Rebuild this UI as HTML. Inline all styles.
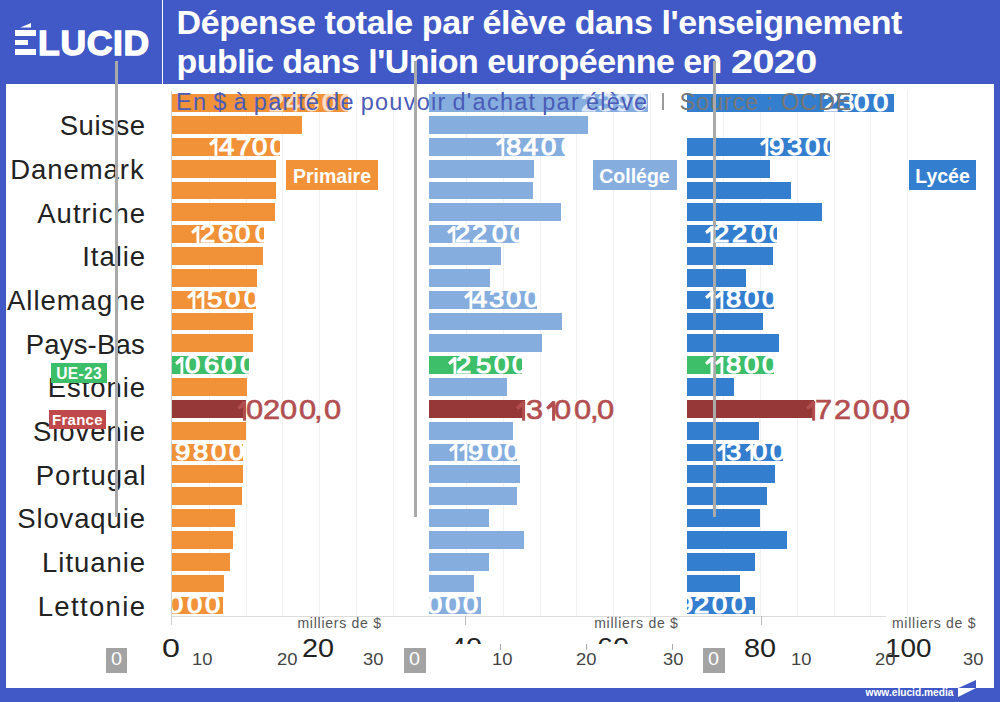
<!DOCTYPE html>
<html><head><meta charset="utf-8">
<style>
html,body{margin:0;padding:0;}
body{width:1000px;height:702px;background:#4059C6;position:relative;overflow:hidden;font-family:"Liberation Sans",sans-serif;}
.a{position:absolute;}
.t{position:absolute;white-space:nowrap;line-height:1;}
.bar{position:absolute;overflow:hidden;}
.g{position:absolute;width:1px;background:#F1F1F1;}
</style></head><body>

<div class="a" style="left:6px;top:84px;width:988px;height:604px;background:#fff"></div>
<div class="a" style="left:161.5px;top:0;width:1.8px;height:84px;background:#fff"></div>
<div class="a" style="left:14.8px;top:30px;width:21.2px;height:6px;background:#fff"></div>
<div class="a" style="left:14.8px;top:39.9px;width:13.2px;height:5.6px;background:#fff"></div>
<div class="a" style="left:14.8px;top:49.4px;width:21.2px;height:5.7px;background:#fff"></div>
<svg class="a" style="left:0;top:0" width="160" height="80"><polygon points="20.3,27.6 31,23 31,27.6" fill="#fff"/></svg>
<div class="t" style="left:38px;top:25.5px;font-size:35.5px;font-weight:bold;color:#fff;letter-spacing:0.7px;-webkit-text-stroke:1.4px #fff">LUCID</div>
<div class="t" style="left:176.5px;top:4.5px;font-size:34px;font-weight:bold;color:#fff;letter-spacing:-0.4px">Dépense totale par élève dans l'enseignement</div>
<div class="t" style="left:176.5px;top:43.5px;font-size:34px;font-weight:bold;color:#fff;letter-spacing:-0.55px">public dans l'Union européenne en <span style="display:inline-block;transform:scaleX(1.165);transform-origin:0 0">2020</span></div>
<div class="g" style="left:208.75px;top:91px;height:525px"></div>
<div class="g" style="left:245.50px;top:91px;height:525px"></div>
<div class="g" style="left:282.25px;top:91px;height:525px"></div>
<div class="g" style="left:319.00px;top:91px;height:525px"></div>
<div class="g" style="left:355.75px;top:91px;height:525px"></div>
<div class="g" style="left:392.50px;top:91px;height:525px"></div>
<div class="g" style="left:466.00px;top:91px;height:525px"></div>
<div class="g" style="left:502.75px;top:91px;height:525px"></div>
<div class="g" style="left:539.50px;top:91px;height:525px"></div>
<div class="g" style="left:576.25px;top:91px;height:525px"></div>
<div class="g" style="left:613.00px;top:91px;height:525px"></div>
<div class="g" style="left:649.75px;top:91px;height:525px"></div>
<div class="g" style="left:723.25px;top:91px;height:525px"></div>
<div class="g" style="left:760.00px;top:91px;height:525px"></div>
<div class="g" style="left:796.75px;top:91px;height:525px"></div>
<div class="g" style="left:833.50px;top:91px;height:525px"></div>
<div class="g" style="left:870.25px;top:91px;height:525px"></div>
<div class="g" style="left:907.00px;top:91px;height:525px"></div>
<div class="a" style="left:171px;top:91px;width:1px;height:534px;background:#D0D0D0"></div>
<div class="a" style="left:172px;top:615.5px;width:714px;height:1px;background:#DCDCDC"></div>
<div class="a" style="left:172.00px;top:94.20px;width:176.00px;height:17.80px;background:#F19238"></div>
<div class="a" style="left:172.00px;top:116.04px;width:129.75px;height:17.80px;background:#F19238"></div>
<div class="a" style="left:172.00px;top:137.88px;width:108.00px;height:17.80px;background:#F19238"></div>
<div class="a" style="left:172.00px;top:159.72px;width:103.50px;height:17.80px;background:#F19238"></div>
<div class="a" style="left:172.00px;top:181.56px;width:103.50px;height:17.80px;background:#F19238"></div>
<div class="a" style="left:172.00px;top:203.40px;width:103.00px;height:17.80px;background:#F19238"></div>
<div class="a" style="left:172.00px;top:225.24px;width:92.00px;height:17.80px;background:#F19238"></div>
<div class="a" style="left:172.00px;top:247.08px;width:90.50px;height:17.80px;background:#F19238"></div>
<div class="a" style="left:172.00px;top:268.92px;width:84.50px;height:17.80px;background:#F19238"></div>
<div class="a" style="left:172.00px;top:290.76px;width:84.00px;height:17.80px;background:#F19238"></div>
<div class="a" style="left:172.00px;top:312.60px;width:81.25px;height:17.80px;background:#F19238"></div>
<div class="a" style="left:172.00px;top:334.44px;width:81.25px;height:17.80px;background:#F19238"></div>
<div class="a" style="left:172.00px;top:356.28px;width:77.25px;height:17.80px;background:#3DBE68"></div>
<div class="a" style="left:172.00px;top:378.12px;width:74.75px;height:17.80px;background:#F19238"></div>
<div class="a" style="left:172.00px;top:399.96px;width:73.60px;height:17.80px;background:#963838"></div>
<div class="a" style="left:172.00px;top:421.80px;width:73.50px;height:17.80px;background:#F19238"></div>
<div class="a" style="left:172.00px;top:443.64px;width:71.00px;height:17.80px;background:#F19238"></div>
<div class="a" style="left:172.00px;top:465.48px;width:70.50px;height:17.80px;background:#F19238"></div>
<div class="a" style="left:172.00px;top:487.32px;width:69.75px;height:17.80px;background:#F19238"></div>
<div class="a" style="left:172.00px;top:509.16px;width:63.00px;height:17.80px;background:#F19238"></div>
<div class="a" style="left:172.00px;top:531.00px;width:61.25px;height:17.80px;background:#F19238"></div>
<div class="a" style="left:172.00px;top:552.84px;width:58.00px;height:17.80px;background:#F19238"></div>
<div class="a" style="left:172.00px;top:574.68px;width:51.75px;height:17.80px;background:#F19238"></div>
<div class="a" style="left:172.00px;top:596.52px;width:51.00px;height:17.80px;background:#F19238"></div>
<div class="a" style="left:429.25px;top:94.20px;width:218.75px;height:17.80px;background:#85AEDF"></div>
<div class="a" style="left:429.25px;top:116.04px;width:158.25px;height:17.80px;background:#85AEDF"></div>
<div class="a" style="left:429.25px;top:137.88px;width:135.75px;height:17.80px;background:#85AEDF"></div>
<div class="a" style="left:429.25px;top:159.72px;width:104.25px;height:17.80px;background:#85AEDF"></div>
<div class="a" style="left:429.25px;top:181.56px;width:103.75px;height:17.80px;background:#85AEDF"></div>
<div class="a" style="left:429.25px;top:203.40px;width:131.25px;height:17.80px;background:#85AEDF"></div>
<div class="a" style="left:429.25px;top:225.24px;width:89.75px;height:17.80px;background:#85AEDF"></div>
<div class="a" style="left:429.25px;top:247.08px;width:71.25px;height:17.80px;background:#85AEDF"></div>
<div class="a" style="left:429.25px;top:268.92px;width:60.75px;height:17.80px;background:#85AEDF"></div>
<div class="a" style="left:429.25px;top:290.76px;width:107.25px;height:17.80px;background:#85AEDF"></div>
<div class="a" style="left:429.25px;top:312.60px;width:132.75px;height:17.80px;background:#85AEDF"></div>
<div class="a" style="left:429.25px;top:334.44px;width:112.75px;height:17.80px;background:#85AEDF"></div>
<div class="a" style="left:429.25px;top:356.28px;width:92.25px;height:17.80px;background:#3DBE68"></div>
<div class="a" style="left:429.25px;top:378.12px;width:77.75px;height:17.80px;background:#85AEDF"></div>
<div class="a" style="left:429.25px;top:399.96px;width:95.55px;height:17.80px;background:#963838"></div>
<div class="a" style="left:429.25px;top:421.80px;width:83.75px;height:17.80px;background:#85AEDF"></div>
<div class="a" style="left:429.25px;top:443.64px;width:87.75px;height:17.80px;background:#85AEDF"></div>
<div class="a" style="left:429.25px;top:465.48px;width:90.75px;height:17.80px;background:#85AEDF"></div>
<div class="a" style="left:429.25px;top:487.32px;width:87.75px;height:17.80px;background:#85AEDF"></div>
<div class="a" style="left:429.25px;top:509.16px;width:59.25px;height:17.80px;background:#85AEDF"></div>
<div class="a" style="left:429.25px;top:531.00px;width:94.75px;height:17.80px;background:#85AEDF"></div>
<div class="a" style="left:429.25px;top:552.84px;width:59.25px;height:17.80px;background:#85AEDF"></div>
<div class="a" style="left:429.25px;top:574.68px;width:44.25px;height:17.80px;background:#85AEDF"></div>
<div class="a" style="left:429.25px;top:596.52px;width:51.75px;height:17.80px;background:#85AEDF"></div>
<div class="a" style="left:686.50px;top:94.20px;width:207.50px;height:17.80px;background:#337ECF"></div>
<div class="a" style="left:686.50px;top:137.88px;width:143.50px;height:17.80px;background:#337ECF"></div>
<div class="a" style="left:686.50px;top:159.72px;width:83.00px;height:17.80px;background:#337ECF"></div>
<div class="a" style="left:686.50px;top:181.56px;width:104.50px;height:17.80px;background:#337ECF"></div>
<div class="a" style="left:686.50px;top:203.40px;width:135.50px;height:17.80px;background:#337ECF"></div>
<div class="a" style="left:686.50px;top:225.24px;width:90.50px;height:17.80px;background:#337ECF"></div>
<div class="a" style="left:686.50px;top:247.08px;width:86.50px;height:17.80px;background:#337ECF"></div>
<div class="a" style="left:686.50px;top:268.92px;width:59.50px;height:17.80px;background:#337ECF"></div>
<div class="a" style="left:686.50px;top:290.76px;width:87.50px;height:17.80px;background:#337ECF"></div>
<div class="a" style="left:686.50px;top:312.60px;width:76.20px;height:17.80px;background:#337ECF"></div>
<div class="a" style="left:686.50px;top:334.44px;width:92.50px;height:17.80px;background:#337ECF"></div>
<div class="a" style="left:686.50px;top:356.28px;width:87.50px;height:17.80px;background:#3DBE68"></div>
<div class="a" style="left:686.50px;top:378.12px;width:47.50px;height:17.80px;background:#337ECF"></div>
<div class="a" style="left:686.50px;top:399.96px;width:127.70px;height:17.80px;background:#963838"></div>
<div class="a" style="left:686.50px;top:421.80px;width:72.10px;height:17.80px;background:#337ECF"></div>
<div class="a" style="left:686.50px;top:443.64px;width:96.50px;height:17.80px;background:#337ECF"></div>
<div class="a" style="left:686.50px;top:465.48px;width:88.10px;height:17.80px;background:#337ECF"></div>
<div class="a" style="left:686.50px;top:487.32px;width:80.50px;height:17.80px;background:#337ECF"></div>
<div class="a" style="left:686.50px;top:509.16px;width:73.20px;height:17.80px;background:#337ECF"></div>
<div class="a" style="left:686.50px;top:531.00px;width:100.00px;height:17.80px;background:#337ECF"></div>
<div class="a" style="left:686.50px;top:552.84px;width:68.10px;height:17.80px;background:#337ECF"></div>
<div class="a" style="left:686.50px;top:574.68px;width:53.50px;height:17.80px;background:#337ECF"></div>
<div class="a" style="left:686.50px;top:596.52px;width:68.10px;height:17.80px;background:#337ECF"></div>
<svg class="a" style="left:236.60px;top:400.56px" width="9.9" height="22.0"><polygon points="6.16,0.33 9.13,0.33 9.13,3.96 1.98,8.69 0.11,6.16" fill="#B24E50"/><rect x="6.05" y="0.33" width="3.08" height="19.36" fill="#B24E50"/></svg>
<div class="t" style="left:246.14px;top:396.36px;font-size:27.4px;color:#B24E50;-webkit-text-stroke:0.6px #B24E50;transform:scaleX(1.125);transform-origin:0 0">0</div>
<div class="t" style="left:262.69px;top:396.36px;font-size:27.4px;color:#B24E50;-webkit-text-stroke:0.6px #B24E50;transform:scaleX(1.125);transform-origin:0 0">2</div>
<div class="t" style="left:280.34px;top:396.36px;font-size:27.4px;color:#B24E50;-webkit-text-stroke:0.6px #B24E50;transform:scaleX(1.125);transform-origin:0 0">0</div>
<div class="t" style="left:298.94px;top:396.36px;font-size:27.4px;color:#B24E50;-webkit-text-stroke:0.6px #B24E50;transform:scaleX(1.125);transform-origin:0 0">0</div>
<div class="t" style="left:314.23px;top:396.36px;font-size:27.4px;color:#B24E50;-webkit-text-stroke:0.6px #B24E50;transform:scaleX(1.125);transform-origin:0 0">,</div>
<div class="t" style="left:324.14px;top:396.36px;font-size:27.4px;color:#B24E50;-webkit-text-stroke:0.6px #B24E50;transform:scaleX(1.125);transform-origin:0 0">0</div>
<svg class="a" style="left:516.40px;top:400.56px" width="9.9" height="22.0"><polygon points="6.16,0.33 9.13,0.33 9.13,3.96 1.98,8.69 0.11,6.16" fill="#B24E50"/><rect x="6.05" y="0.33" width="3.08" height="19.36" fill="#B24E50"/></svg>
<div class="t" style="left:525.94px;top:396.36px;font-size:27.4px;color:#B24E50;-webkit-text-stroke:0.6px #B24E50;transform:scaleX(1.125);transform-origin:0 0">3</div>
<svg class="a" style="left:545.80px;top:400.56px" width="9.9" height="22.0"><polygon points="6.16,0.33 9.13,0.33 9.13,3.96 1.98,8.69 0.11,6.16" fill="#B24E50"/><rect x="6.05" y="0.33" width="3.08" height="19.36" fill="#B24E50"/></svg>
<div class="t" style="left:554.14px;top:396.36px;font-size:27.4px;color:#B24E50;-webkit-text-stroke:0.6px #B24E50;transform:scaleX(1.125);transform-origin:0 0">0</div>
<div class="t" style="left:573.94px;top:396.36px;font-size:27.4px;color:#B24E50;-webkit-text-stroke:0.6px #B24E50;transform:scaleX(1.125);transform-origin:0 0">0</div>
<div class="t" style="left:590.43px;top:396.36px;font-size:27.4px;color:#B24E50;-webkit-text-stroke:0.6px #B24E50;transform:scaleX(1.125);transform-origin:0 0">,</div>
<div class="t" style="left:596.74px;top:396.36px;font-size:27.4px;color:#B24E50;-webkit-text-stroke:0.6px #B24E50;transform:scaleX(1.125);transform-origin:0 0">0</div>
<svg class="a" style="left:805.80px;top:400.56px" width="9.9" height="22.0"><polygon points="6.16,0.33 9.13,0.33 9.13,3.96 1.98,8.69 0.11,6.16" fill="#B24E50"/><rect x="6.05" y="0.33" width="3.08" height="19.36" fill="#B24E50"/></svg>
<div class="t" style="left:814.96px;top:396.36px;font-size:27.4px;color:#B24E50;-webkit-text-stroke:0.6px #B24E50;transform:scaleX(1.125);transform-origin:0 0">7</div>
<div class="t" style="left:833.69px;top:396.36px;font-size:27.4px;color:#B24E50;-webkit-text-stroke:0.6px #B24E50;transform:scaleX(1.125);transform-origin:0 0">2</div>
<div class="t" style="left:852.54px;top:396.36px;font-size:27.4px;color:#B24E50;-webkit-text-stroke:0.6px #B24E50;transform:scaleX(1.125);transform-origin:0 0">0</div>
<div class="t" style="left:871.74px;top:396.36px;font-size:27.4px;color:#B24E50;-webkit-text-stroke:0.6px #B24E50;transform:scaleX(1.125);transform-origin:0 0">0</div>
<div class="t" style="left:888.23px;top:396.36px;font-size:27.4px;color:#B24E50;-webkit-text-stroke:0.6px #B24E50;transform:scaleX(1.125);transform-origin:0 0">,</div>
<div class="t" style="left:893.34px;top:396.36px;font-size:27.4px;color:#B24E50;-webkit-text-stroke:0.6px #B24E50;transform:scaleX(1.125);transform-origin:0 0">0</div>
<div class="t" style="left:59.70px;top:112.20px;font-size:27.5px;color:#222;letter-spacing:0.560px">Suisse</div>
<div class="t" style="left:10.20px;top:155.88px;font-size:27.5px;color:#222;letter-spacing:0.957px">Danemark</div>
<div class="t" style="left:37.30px;top:199.56px;font-size:27.5px;color:#222;letter-spacing:0.971px">Autriche</div>
<div class="t" style="left:82.30px;top:243.24px;font-size:27.5px;color:#222;letter-spacing:0.920px">Italie</div>
<div class="t" style="left:6.90px;top:286.92px;font-size:27.5px;color:#222;letter-spacing:1.025px">Allemagne</div>
<div class="t" style="left:25.70px;top:330.60px;font-size:27.5px;color:#222;letter-spacing:0.200px">Pays-Bas</div>
<div class="t" style="left:47.70px;top:374.28px;font-size:27.5px;color:#222;letter-spacing:0.933px">Estonie</div>
<div class="t" style="left:33.00px;top:417.96px;font-size:27.5px;color:#222;letter-spacing:0.929px">Slovénie</div>
<div class="t" style="left:35.70px;top:461.64px;font-size:27.5px;color:#222;letter-spacing:1.071px">Portugal</div>
<div class="t" style="left:17.20px;top:505.32px;font-size:27.5px;color:#222;letter-spacing:0.875px">Slovaquie</div>
<div class="t" style="left:42.10px;top:549.00px;font-size:27.5px;color:#222;letter-spacing:0.943px">Lituanie</div>
<div class="t" style="left:37.70px;top:592.68px;font-size:27.5px;color:#222;letter-spacing:1.343px">Lettonie</div>
<div class="a" style="left:115px;top:61px;width:3px;height:456px;background:#A9A9A9"></div>
<div class="a" style="left:414px;top:61px;width:3px;height:456px;background:#A9A9A9"></div>
<div class="a" style="left:713px;top:61px;width:3px;height:456px;background:#A9A9A9"></div>
<div class="bar" style="left:172.00px;top:94.20px;width:176.00px;height:17.80px;opacity:0.7"><div class="t" style="left:96.66px;top:-3.30px;font-size:24.5px;color:#fff;-webkit-text-stroke:1px #fff;transform:scaleX(1.12);transform-origin:0 0">2</div><div class="t" style="left:113.33px;top:-3.30px;font-size:24.5px;color:#fff;-webkit-text-stroke:1px #fff;transform:scaleX(1.12);transform-origin:0 0">4</div><div class="t" style="left:131.66px;top:-3.30px;font-size:24.5px;color:#fff;-webkit-text-stroke:1px #fff;transform:scaleX(1.12);transform-origin:0 0">6</div><div class="t" style="left:149.88px;top:-3.30px;font-size:24.5px;color:#fff;-webkit-text-stroke:1px #fff;transform:scaleX(1.12);transform-origin:0 0">0</div><div class="t" style="left:167.88px;top:-3.30px;font-size:24.5px;color:#fff;-webkit-text-stroke:1px #fff;transform:scaleX(1.12);transform-origin:0 0">0</div></div>
<div class="bar" style="left:172.00px;top:137.88px;width:108.00px;height:17.80px"><svg class="a" style="left:36.60px;top:0.30px" width="9.0" height="20.0"><polygon points="5.60,0.30 8.30,0.30 8.30,3.60 1.80,7.90 0.10,5.60" fill="#fff"/><rect x="5.50" y="0.30" width="2.80" height="17.60" fill="#fff"/></svg><div class="t" style="left:47.13px;top:-3.30px;font-size:24.5px;color:#fff;-webkit-text-stroke:1px #fff;transform:scaleX(1.12);transform-origin:0 0">4</div><div class="t" style="left:64.34px;top:-3.30px;font-size:24.5px;color:#fff;-webkit-text-stroke:1px #fff;transform:scaleX(1.12);transform-origin:0 0">7</div><div class="t" style="left:80.08px;top:-3.30px;font-size:24.5px;color:#fff;-webkit-text-stroke:1px #fff;transform:scaleX(1.12);transform-origin:0 0">0</div><div class="t" style="left:98.08px;top:-3.30px;font-size:24.5px;color:#fff;-webkit-text-stroke:1px #fff;transform:scaleX(1.12);transform-origin:0 0">0</div></div>
<div class="bar" style="left:172.00px;top:225.24px;width:92.00px;height:17.80px"><svg class="a" style="left:18.80px;top:0.30px" width="9.0" height="20.0"><polygon points="5.60,0.30 8.30,0.30 8.30,3.60 1.80,7.90 0.10,5.60" fill="#fff"/><rect x="5.50" y="0.30" width="2.80" height="17.60" fill="#fff"/></svg><div class="t" style="left:28.26px;top:-3.30px;font-size:24.5px;color:#fff;-webkit-text-stroke:1px #fff;transform:scaleX(1.12);transform-origin:0 0">2</div><div class="t" style="left:46.26px;top:-3.30px;font-size:24.5px;color:#fff;-webkit-text-stroke:1px #fff;transform:scaleX(1.12);transform-origin:0 0">6</div><div class="t" style="left:63.18px;top:-3.30px;font-size:24.5px;color:#fff;-webkit-text-stroke:1px #fff;transform:scaleX(1.12);transform-origin:0 0">0</div><div class="t" style="left:82.88px;top:-3.30px;font-size:24.5px;color:#fff;-webkit-text-stroke:1px #fff;transform:scaleX(1.12);transform-origin:0 0">0</div></div>
<div class="bar" style="left:172.00px;top:290.76px;width:84.00px;height:17.80px"><svg class="a" style="left:14.70px;top:0.30px" width="9.0" height="20.0"><polygon points="5.60,0.30 8.30,0.30 8.30,3.60 1.80,7.90 0.10,5.60" fill="#fff"/><rect x="5.50" y="0.30" width="2.80" height="17.60" fill="#fff"/></svg><svg class="a" style="left:24.10px;top:0.30px" width="9.0" height="20.0"><polygon points="5.60,0.30 8.30,0.30 8.30,3.60 1.80,7.90 0.10,5.60" fill="#fff"/><rect x="5.50" y="0.30" width="2.80" height="17.60" fill="#fff"/></svg><div class="t" style="left:34.68px;top:-3.30px;font-size:24.5px;color:#fff;-webkit-text-stroke:1px #fff;transform:scaleX(1.12);transform-origin:0 0">5</div><div class="t" style="left:53.18px;top:-3.30px;font-size:24.5px;color:#fff;-webkit-text-stroke:1px #fff;transform:scaleX(1.12);transform-origin:0 0">0</div><div class="t" style="left:72.08px;top:-3.30px;font-size:24.5px;color:#fff;-webkit-text-stroke:1px #fff;transform:scaleX(1.12);transform-origin:0 0">0</div></div>
<div class="bar" style="left:172.00px;top:356.28px;width:77.25px;height:17.80px"><svg class="a" style="left:2.50px;top:0.30px" width="9.0" height="20.0"><polygon points="5.60,0.30 8.30,0.30 8.30,3.60 1.80,7.90 0.10,5.60" fill="#fff"/><rect x="5.50" y="0.30" width="2.80" height="17.60" fill="#fff"/></svg><div class="t" style="left:12.58px;top:-3.30px;font-size:24.5px;color:#fff;-webkit-text-stroke:1px #fff;transform:scaleX(1.12);transform-origin:0 0">0</div><div class="t" style="left:32.16px;top:-3.30px;font-size:24.5px;color:#fff;-webkit-text-stroke:1px #fff;transform:scaleX(1.12);transform-origin:0 0">6</div><div class="t" style="left:49.48px;top:-3.30px;font-size:24.5px;color:#fff;-webkit-text-stroke:1px #fff;transform:scaleX(1.12);transform-origin:0 0">0</div><div class="t" style="left:67.88px;top:-3.30px;font-size:24.5px;color:#fff;-webkit-text-stroke:1px #fff;transform:scaleX(1.12);transform-origin:0 0">0</div></div>
<div class="bar" style="left:172.00px;top:443.64px;width:71.00px;height:17.80px"><div class="t" style="left:3.07px;top:-3.30px;font-size:24.5px;color:#fff;-webkit-text-stroke:1px #fff;transform:scaleX(1.12);transform-origin:0 0">9</div><div class="t" style="left:20.57px;top:-3.30px;font-size:24.5px;color:#fff;-webkit-text-stroke:1px #fff;transform:scaleX(1.12);transform-origin:0 0">8</div><div class="t" style="left:38.68px;top:-3.30px;font-size:24.5px;color:#fff;-webkit-text-stroke:1px #fff;transform:scaleX(1.12);transform-origin:0 0">0</div><div class="t" style="left:56.78px;top:-3.30px;font-size:24.5px;color:#fff;-webkit-text-stroke:1px #fff;transform:scaleX(1.12);transform-origin:0 0">0</div></div>
<div class="bar" style="left:172.00px;top:596.52px;width:51.00px;height:17.80px"><div class="t" style="left:-3.52px;top:-3.30px;font-size:24.5px;color:#fff;-webkit-text-stroke:1px #fff;transform:scaleX(1.12);transform-origin:0 0">0</div><div class="t" style="left:14.88px;top:-3.30px;font-size:24.5px;color:#fff;-webkit-text-stroke:1px #fff;transform:scaleX(1.12);transform-origin:0 0">0</div><div class="t" style="left:33.28px;top:-3.30px;font-size:24.5px;color:#fff;-webkit-text-stroke:1px #fff;transform:scaleX(1.12);transform-origin:0 0">0</div></div>
<div class="bar" style="left:429.25px;top:94.20px;width:218.75px;height:17.80px;opacity:0.7"><div class="t" style="left:151.41px;top:-3.30px;font-size:24.5px;color:#fff;-webkit-text-stroke:1px #fff;transform:scaleX(1.12);transform-origin:0 0">2</div><div class="t" style="left:168.63px;top:-3.30px;font-size:24.5px;color:#fff;-webkit-text-stroke:1px #fff;transform:scaleX(1.12);transform-origin:0 0">3</div><div class="t" style="left:185.52px;top:-3.30px;font-size:24.5px;color:#fff;-webkit-text-stroke:1px #fff;transform:scaleX(1.12);transform-origin:0 0">9</div><div class="t" style="left:202.63px;top:-3.30px;font-size:24.5px;color:#fff;-webkit-text-stroke:1px #fff;transform:scaleX(1.12);transform-origin:0 0">0</div><div class="t" style="left:219.63px;top:-3.30px;font-size:24.5px;color:#fff;-webkit-text-stroke:1px #fff;transform:scaleX(1.12);transform-origin:0 0">0</div></div>
<div class="bar" style="left:429.25px;top:137.88px;width:135.75px;height:17.80px"><svg class="a" style="left:66.50px;top:0.30px" width="9.0" height="20.0"><polygon points="5.60,0.30 8.30,0.30 8.30,3.60 1.80,7.90 0.10,5.60" fill="#fff"/><rect x="5.50" y="0.30" width="2.80" height="17.60" fill="#fff"/></svg><div class="t" style="left:76.52px;top:-3.30px;font-size:24.5px;color:#fff;-webkit-text-stroke:1px #fff;transform:scaleX(1.12);transform-origin:0 0">8</div><div class="t" style="left:94.18px;top:-3.30px;font-size:24.5px;color:#fff;-webkit-text-stroke:1px #fff;transform:scaleX(1.12);transform-origin:0 0">4</div><div class="t" style="left:112.23px;top:-3.30px;font-size:24.5px;color:#fff;-webkit-text-stroke:1px #fff;transform:scaleX(1.12);transform-origin:0 0">0</div><div class="t" style="left:132.03px;top:-3.30px;font-size:24.5px;color:#fff;-webkit-text-stroke:1px #fff;transform:scaleX(1.12);transform-origin:0 0">0</div></div>
<div class="bar" style="left:429.25px;top:225.24px;width:89.75px;height:17.80px"><svg class="a" style="left:17.35px;top:0.30px" width="9.0" height="20.0"><polygon points="5.60,0.30 8.30,0.30 8.30,3.60 1.80,7.90 0.10,5.60" fill="#fff"/><rect x="5.50" y="0.30" width="2.80" height="17.60" fill="#fff"/></svg><div class="t" style="left:25.51px;top:-3.30px;font-size:24.5px;color:#fff;-webkit-text-stroke:1px #fff;transform:scaleX(1.12);transform-origin:0 0">2</div><div class="t" style="left:43.11px;top:-3.30px;font-size:24.5px;color:#fff;-webkit-text-stroke:1px #fff;transform:scaleX(1.12);transform-origin:0 0">2</div><div class="t" style="left:62.33px;top:-3.30px;font-size:24.5px;color:#fff;-webkit-text-stroke:1px #fff;transform:scaleX(1.12);transform-origin:0 0">0</div><div class="t" style="left:81.23px;top:-3.30px;font-size:24.5px;color:#fff;-webkit-text-stroke:1px #fff;transform:scaleX(1.12);transform-origin:0 0">0</div></div>
<div class="bar" style="left:429.25px;top:290.76px;width:107.25px;height:17.80px"><svg class="a" style="left:34.95px;top:0.30px" width="9.0" height="20.0"><polygon points="5.60,0.30 8.30,0.30 8.30,3.60 1.80,7.90 0.10,5.60" fill="#fff"/><rect x="5.50" y="0.30" width="2.80" height="17.60" fill="#fff"/></svg><div class="t" style="left:43.08px;top:-3.30px;font-size:24.5px;color:#fff;-webkit-text-stroke:1px #fff;transform:scaleX(1.12);transform-origin:0 0">4</div><div class="t" style="left:59.63px;top:-3.30px;font-size:24.5px;color:#fff;-webkit-text-stroke:1px #fff;transform:scaleX(1.12);transform-origin:0 0">3</div><div class="t" style="left:77.13px;top:-3.30px;font-size:24.5px;color:#fff;-webkit-text-stroke:1px #fff;transform:scaleX(1.12);transform-origin:0 0">0</div><div class="t" style="left:94.73px;top:-3.30px;font-size:24.5px;color:#fff;-webkit-text-stroke:1px #fff;transform:scaleX(1.12);transform-origin:0 0">0</div></div>
<div class="bar" style="left:429.25px;top:356.28px;width:92.25px;height:17.80px"><svg class="a" style="left:18.75px;top:0.30px" width="9.0" height="20.0"><polygon points="5.60,0.30 8.30,0.30 8.30,3.60 1.80,7.90 0.10,5.60" fill="#fff"/><rect x="5.50" y="0.30" width="2.80" height="17.60" fill="#fff"/></svg><div class="t" style="left:27.21px;top:-3.30px;font-size:24.5px;color:#fff;-webkit-text-stroke:1px #fff;transform:scaleX(1.12);transform-origin:0 0">2</div><div class="t" style="left:47.13px;top:-3.30px;font-size:24.5px;color:#fff;-webkit-text-stroke:1px #fff;transform:scaleX(1.12);transform-origin:0 0">5</div><div class="t" style="left:64.33px;top:-3.30px;font-size:24.5px;color:#fff;-webkit-text-stroke:1px #fff;transform:scaleX(1.12);transform-origin:0 0">0</div><div class="t" style="left:82.33px;top:-3.30px;font-size:24.5px;color:#fff;-webkit-text-stroke:1px #fff;transform:scaleX(1.12);transform-origin:0 0">0</div></div>
<div class="bar" style="left:429.25px;top:443.64px;width:87.75px;height:17.80px"><svg class="a" style="left:19.55px;top:0.30px" width="9.0" height="20.0"><polygon points="5.60,0.30 8.30,0.30 8.30,3.60 1.80,7.90 0.10,5.60" fill="#fff"/><rect x="5.50" y="0.30" width="2.80" height="17.60" fill="#fff"/></svg><svg class="a" style="left:29.35px;top:0.30px" width="9.0" height="20.0"><polygon points="5.60,0.30 8.30,0.30 8.30,3.60 1.80,7.90 0.10,5.60" fill="#fff"/><rect x="5.50" y="0.30" width="2.80" height="17.60" fill="#fff"/></svg><div class="t" style="left:38.82px;top:-3.30px;font-size:24.5px;color:#fff;-webkit-text-stroke:1px #fff;transform:scaleX(1.12);transform-origin:0 0">9</div><div class="t" style="left:57.73px;top:-3.30px;font-size:24.5px;color:#fff;-webkit-text-stroke:1px #fff;transform:scaleX(1.12);transform-origin:0 0">0</div><div class="t" style="left:74.93px;top:-3.30px;font-size:24.5px;color:#fff;-webkit-text-stroke:1px #fff;transform:scaleX(1.12);transform-origin:0 0">0</div></div>
<div class="bar" style="left:429.25px;top:596.52px;width:51.75px;height:17.80px"><div class="t" style="left:-2.67px;top:-3.30px;font-size:24.5px;color:#fff;-webkit-text-stroke:1px #fff;transform:scaleX(1.12);transform-origin:0 0">0</div><div class="t" style="left:15.73px;top:-3.30px;font-size:24.5px;color:#fff;-webkit-text-stroke:1px #fff;transform:scaleX(1.12);transform-origin:0 0">0</div><div class="t" style="left:34.23px;top:-3.30px;font-size:24.5px;color:#fff;-webkit-text-stroke:1px #fff;transform:scaleX(1.12);transform-origin:0 0">0</div></div>
<div class="bar" style="left:686.50px;top:94.20px;width:207.50px;height:17.80px"><div class="t" style="left:136.16px;top:-3.30px;font-size:24.5px;color:#fff;-webkit-text-stroke:1px #fff;transform:scaleX(1.12);transform-origin:0 0">2</div><div class="t" style="left:152.38px;top:-3.30px;font-size:24.5px;color:#fff;-webkit-text-stroke:1px #fff;transform:scaleX(1.12);transform-origin:0 0">3</div><div class="t" style="left:167.88px;top:-3.30px;font-size:24.5px;color:#fff;-webkit-text-stroke:1px #fff;transform:scaleX(1.12);transform-origin:0 0">0</div><div class="t" style="left:186.38px;top:-3.30px;font-size:24.5px;color:#fff;-webkit-text-stroke:1px #fff;transform:scaleX(1.12);transform-origin:0 0">0</div></div>
<div class="bar" style="left:686.50px;top:137.88px;width:143.50px;height:17.80px"><svg class="a" style="left:73.70px;top:0.30px" width="9.0" height="20.0"><polygon points="5.60,0.30 8.30,0.30 8.30,3.60 1.80,7.90 0.10,5.60" fill="#fff"/><rect x="5.50" y="0.30" width="2.80" height="17.60" fill="#fff"/></svg><div class="t" style="left:82.77px;top:-3.30px;font-size:24.5px;color:#fff;-webkit-text-stroke:1px #fff;transform:scaleX(1.12);transform-origin:0 0">9</div><div class="t" style="left:100.78px;top:-3.30px;font-size:24.5px;color:#fff;-webkit-text-stroke:1px #fff;transform:scaleX(1.12);transform-origin:0 0">3</div><div class="t" style="left:118.78px;top:-3.30px;font-size:24.5px;color:#fff;-webkit-text-stroke:1px #fff;transform:scaleX(1.12);transform-origin:0 0">0</div><div class="t" style="left:136.68px;top:-3.30px;font-size:24.5px;color:#fff;-webkit-text-stroke:1px #fff;transform:scaleX(1.12);transform-origin:0 0">0</div></div>
<div class="bar" style="left:686.50px;top:225.24px;width:90.50px;height:17.80px"><svg class="a" style="left:18.20px;top:0.30px" width="9.0" height="20.0"><polygon points="5.60,0.30 8.30,0.30 8.30,3.60 1.80,7.90 0.10,5.60" fill="#fff"/><rect x="5.50" y="0.30" width="2.80" height="17.60" fill="#fff"/></svg><div class="t" style="left:27.96px;top:-3.30px;font-size:24.5px;color:#fff;-webkit-text-stroke:1px #fff;transform:scaleX(1.12);transform-origin:0 0">2</div><div class="t" style="left:45.86px;top:-3.30px;font-size:24.5px;color:#fff;-webkit-text-stroke:1px #fff;transform:scaleX(1.12);transform-origin:0 0">2</div><div class="t" style="left:64.08px;top:-3.30px;font-size:24.5px;color:#fff;-webkit-text-stroke:1px #fff;transform:scaleX(1.12);transform-origin:0 0">0</div><div class="t" style="left:82.88px;top:-3.30px;font-size:24.5px;color:#fff;-webkit-text-stroke:1px #fff;transform:scaleX(1.12);transform-origin:0 0">0</div></div>
<div class="bar" style="left:686.50px;top:290.76px;width:87.50px;height:17.80px"><svg class="a" style="left:18.80px;top:0.30px" width="9.0" height="20.0"><polygon points="5.60,0.30 8.30,0.30 8.30,3.60 1.80,7.90 0.10,5.60" fill="#fff"/><rect x="5.50" y="0.30" width="2.80" height="17.60" fill="#fff"/></svg><svg class="a" style="left:28.90px;top:0.30px" width="9.0" height="20.0"><polygon points="5.60,0.30 8.30,0.30 8.30,3.60 1.80,7.90 0.10,5.60" fill="#fff"/><rect x="5.50" y="0.30" width="2.80" height="17.60" fill="#fff"/></svg><div class="t" style="left:39.87px;top:-3.30px;font-size:24.5px;color:#fff;-webkit-text-stroke:1px #fff;transform:scaleX(1.12);transform-origin:0 0">8</div><div class="t" style="left:57.58px;top:-3.30px;font-size:24.5px;color:#fff;-webkit-text-stroke:1px #fff;transform:scaleX(1.12);transform-origin:0 0">0</div><div class="t" style="left:75.88px;top:-3.30px;font-size:24.5px;color:#fff;-webkit-text-stroke:1px #fff;transform:scaleX(1.12);transform-origin:0 0">0</div></div>
<div class="bar" style="left:686.50px;top:356.28px;width:87.50px;height:17.80px"><svg class="a" style="left:18.80px;top:0.30px" width="9.0" height="20.0"><polygon points="5.60,0.30 8.30,0.30 8.30,3.60 1.80,7.90 0.10,5.60" fill="#fff"/><rect x="5.50" y="0.30" width="2.80" height="17.60" fill="#fff"/></svg><svg class="a" style="left:28.90px;top:0.30px" width="9.0" height="20.0"><polygon points="5.60,0.30 8.30,0.30 8.30,3.60 1.80,7.90 0.10,5.60" fill="#fff"/><rect x="5.50" y="0.30" width="2.80" height="17.60" fill="#fff"/></svg><div class="t" style="left:39.87px;top:-3.30px;font-size:24.5px;color:#fff;-webkit-text-stroke:1px #fff;transform:scaleX(1.12);transform-origin:0 0">8</div><div class="t" style="left:57.58px;top:-3.30px;font-size:24.5px;color:#fff;-webkit-text-stroke:1px #fff;transform:scaleX(1.12);transform-origin:0 0">0</div><div class="t" style="left:75.88px;top:-3.30px;font-size:24.5px;color:#fff;-webkit-text-stroke:1px #fff;transform:scaleX(1.12);transform-origin:0 0">0</div></div>
<div class="bar" style="left:686.50px;top:443.64px;width:96.50px;height:17.80px"><svg class="a" style="left:30.30px;top:0.30px" width="9.0" height="20.0"><polygon points="5.60,0.30 8.30,0.30 8.30,3.60 1.80,7.90 0.10,5.60" fill="#fff"/><rect x="5.50" y="0.30" width="2.80" height="17.60" fill="#fff"/></svg><div class="t" style="left:39.38px;top:-3.30px;font-size:24.5px;color:#fff;-webkit-text-stroke:1px #fff;transform:scaleX(1.12);transform-origin:0 0">3</div><svg class="a" style="left:58.50px;top:0.30px" width="9.0" height="20.0"><polygon points="5.60,0.30 8.30,0.30 8.30,3.60 1.80,7.90 0.10,5.60" fill="#fff"/><rect x="5.50" y="0.30" width="2.80" height="17.60" fill="#fff"/></svg><div class="t" style="left:65.78px;top:-3.30px;font-size:24.5px;color:#fff;-webkit-text-stroke:1px #fff;transform:scaleX(1.12);transform-origin:0 0">0</div><div class="t" style="left:83.78px;top:-3.30px;font-size:24.5px;color:#fff;-webkit-text-stroke:1px #fff;transform:scaleX(1.12);transform-origin:0 0">0</div></div>
<div class="bar" style="left:686.50px;top:596.52px;width:68.10px;height:17.80px"><div class="t" style="left:-8.73px;top:-3.30px;font-size:24.5px;color:#fff;-webkit-text-stroke:1px #fff;transform:scaleX(1.12);transform-origin:0 0">9</div><div class="t" style="left:7.16px;top:-3.30px;font-size:24.5px;color:#fff;-webkit-text-stroke:1px #fff;transform:scaleX(1.12);transform-origin:0 0">2</div><div class="t" style="left:25.38px;top:-3.30px;font-size:24.5px;color:#fff;-webkit-text-stroke:1px #fff;transform:scaleX(1.12);transform-origin:0 0">0</div><div class="t" style="left:44.38px;top:-3.30px;font-size:24.5px;color:#fff;-webkit-text-stroke:1px #fff;transform:scaleX(1.12);transform-origin:0 0">0</div><div class="t" style="left:60.04px;top:-3.30px;font-size:24.5px;color:#fff;-webkit-text-stroke:1px #fff;transform:scaleX(1.12);transform-origin:0 0">,</div></div>
<div class="t" style="left:176px;top:91.2px;font-size:23.5px;color:#4B5CB8;letter-spacing:1.25px;word-spacing:-1.8px">En $ à parité de pouvoir d'achat par élève</div>
<div class="a" style="left:662.3px;top:93px;width:1.3px;height:17px;background:#9A9A9A"></div>
<div class="t" style="left:679.5px;top:91.2px;font-size:23.5px;color:#777;letter-spacing:0.83px">Source : OCDE</div>
<div class="a" style="left:115px;top:61px;width:3px;height:57px;background:#A9A9A9"></div>
<div class="a" style="left:414px;top:61px;width:3px;height:57px;background:#A9A9A9"></div>
<div class="a" style="left:713px;top:61px;width:3px;height:57px;background:#A9A9A9"></div>
<div class="a" style="left:286px;top:160px;width:92px;height:30px;background:#F19238"></div><div class="t" style="left:286px;top:167px;width:92px;text-align:center;font-size:19.5px;font-weight:bold;color:#fff">Primaire</div>
<div class="a" style="left:592.5px;top:160px;width:84px;height:30px;background:#85AEDF"></div><div class="t" style="left:592.5px;top:167px;width:84px;text-align:center;font-size:19.5px;font-weight:bold;color:#fff">Collége</div>
<div class="a" style="left:909px;top:160px;width:67px;height:30px;background:#337ECF"></div><div class="t" style="left:909px;top:167px;width:67px;text-align:center;font-size:19.5px;font-weight:bold;color:#fff">Lycée</div>
<div class="a" style="left:51px;top:363px;width:56px;height:20px;background:#3DBE68"></div><div class="t" style="left:51px;top:366.2px;width:56px;text-align:center;font-size:15.6px;font-weight:bold;color:#fff;letter-spacing:0.3px;text-indent:0.3px">UE-23</div>
<div class="a" style="left:48.5px;top:409.5px;width:57.5px;height:19.5px;background:#C0494B"></div><div class="t" style="left:48.5px;top:412.6px;width:57.5px;text-align:center;font-size:14.9px;font-weight:bold;color:#fff;letter-spacing:0.3px;text-indent:0.3px">France</div>
<div class="t" style="left:297.4px;top:615.6px;font-size:14px;color:#555;letter-spacing:0.75px">milliers de $</div>
<div class="t" style="left:594.2px;top:615.6px;font-size:14px;color:#555;letter-spacing:0.75px">milliers de $</div>
<div class="t" style="left:891.9px;top:615.6px;font-size:14px;color:#555;letter-spacing:0.75px">milliers de $</div>
<div class="a" style="left:465.0px;top:616px;width:1px;height:9px;background:#BBB"></div>
<div class="a" style="left:760.5px;top:616px;width:1px;height:9px;background:#BBB"></div>
<div class="t" style="left:162.28px;top:636.40px;font-size:25.40px;color:#222;transform:scaleX(1.270);transform-origin:0 0;">0</div>
<div class="t" style="left:302.19px;top:636.40px;font-size:25.40px;color:#222;transform:scaleX(1.135);transform-origin:0 0;">20</div>
<div class="t" style="left:744.41px;top:636.40px;font-size:25.40px;color:#222;transform:scaleX(1.135);transform-origin:0 0;">80</div>
<div class="t" style="left:884.83px;top:636.40px;font-size:25.40px;color:#222;transform:scaleX(1.100);transform-origin:0 0;">100</div>
<div class="a" style="left:420px;top:630px;width:240px;height:14.4px;overflow:hidden">
<div class="t" style="left:29.69px;top:4.75px;font-size:25.40px;color:#222;transform:scaleX(1.135);transform-origin:0 0;">40</div>
<div class="t" style="left:176.89px;top:4.75px;font-size:25.40px;color:#222;transform:scaleX(1.135);transform-origin:0 0;">60</div>
</div>
<div class="a" style="left:105.5px;top:648px;width:21.5px;height:24.6px;background:#A3A3A3"></div>
<div class="t" style="left:110.59px;top:650.30px;font-size:18.00px;color:#fff;transform:scaleX(1.100);transform-origin:0 0;">0</div>
<div class="t" style="left:192.17px;top:650.60px;font-size:16.30px;color:#444;transform:scaleX(1.130);transform-origin:0 0;">10</div>
<div class="t" style="left:276.90px;top:650.60px;font-size:16.30px;color:#444;transform:scaleX(1.130);transform-origin:0 0;">20</div>
<div class="t" style="left:362.85px;top:650.60px;font-size:16.30px;color:#444;transform:scaleX(1.130);transform-origin:0 0;">30</div>
<div class="a" style="left:404.2px;top:648px;width:21.5px;height:24.6px;background:#A3A3A3"></div>
<div class="t" style="left:409.39px;top:650.30px;font-size:18.00px;color:#fff;transform:scaleX(1.100);transform-origin:0 0;">0</div>
<div class="a" style="left:500.2px;top:643.5px;width:1px;height:6.5px;background:#AAA"></div>
<div class="t" style="left:491.57px;top:650.60px;font-size:16.30px;color:#444;transform:scaleX(1.130);transform-origin:0 0;">10</div>
<div class="a" style="left:586.0px;top:643.5px;width:1px;height:6.5px;background:#AAA"></div>
<div class="t" style="left:576.10px;top:650.60px;font-size:16.30px;color:#444;transform:scaleX(1.130);transform-origin:0 0;">20</div>
<div class="a" style="left:671.8px;top:643.5px;width:1px;height:6.5px;background:#AAA"></div>
<div class="t" style="left:662.85px;top:650.60px;font-size:16.30px;color:#444;transform:scaleX(1.130);transform-origin:0 0;">30</div>
<div class="a" style="left:703.2px;top:648px;width:21.5px;height:24.6px;background:#A3A3A3"></div>
<div class="t" style="left:708.39px;top:650.30px;font-size:18.00px;color:#fff;transform:scaleX(1.100);transform-origin:0 0;">0</div>
<div class="t" style="left:790.57px;top:650.60px;font-size:16.30px;color:#444;transform:scaleX(1.130);transform-origin:0 0;">10</div>
<div class="t" style="left:875.10px;top:650.60px;font-size:16.30px;color:#444;transform:scaleX(1.130);transform-origin:0 0;">20</div>
<div class="t" style="left:962.95px;top:650.60px;font-size:16.30px;color:#444;transform:scaleX(1.130);transform-origin:0 0;">30</div>
<div class="t" style="left:865.5px;top:687.6px;font-size:10.2px;font-weight:bold;color:#fff">www.elucid.media</div>
<svg class="a" style="left:950px;top:675px" width="40" height="27"><polygon points="8.5,13 26,5 26,13" fill="#4059C6"/><polygon points="8,13 26,13 8,22" fill="#fff"/></svg>
</body></html>
